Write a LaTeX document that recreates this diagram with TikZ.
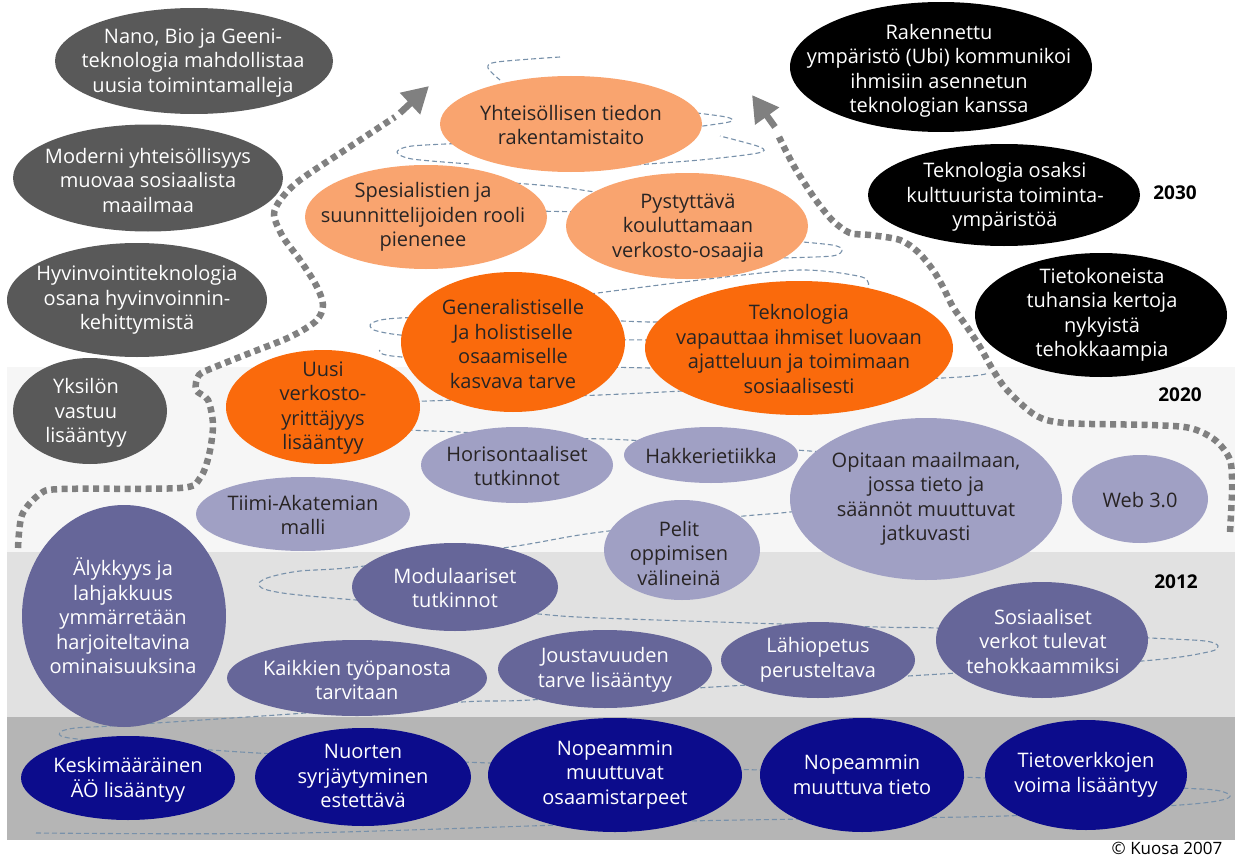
\documentclass[tikz,border=0pt]{standalone}
\usepackage{fontspec}
\setmainfont{Open Sans}
\usetikzlibrary{shapes.geometric,arrows.meta}
\definecolor{dgray}{RGB}{89,89,89}
\definecolor{lorange}{RGB}{249,164,111}
\definecolor{borange}{RGB}{250,106,12}
\definecolor{lav}{RGB}{160,160,196}
\definecolor{slate}{RGB}{102,102,153}
\definecolor{navy2}{RGB}{12,12,140}
\definecolor{bandA}{RGB}{246,246,246}
\definecolor{bandB}{RGB}{225,225,225}
\definecolor{bandC}{RGB}{181,181,181}
\definecolor{spiralc}{RGB}{120,145,170}
\definecolor{dotc}{RGB}{128,128,128}
\definecolor{darktxt}{RGB}{40,36,36}
\begin{document}
\begin{tikzpicture}[x=1pt,y=-1pt,
  ell/.style={ellipse,inner sep=0pt,draw=none},
  txt/.style={align=center,inner sep=0pt,font=\fontsize{20}{24.5}\selectfont},
  wtxt/.style={txt,text=white},
  dtxt/.style={txt,text=darktxt},
  spiral/.style={draw=spiralc,line width=1.1pt,dash pattern=on 5pt off 3pt},
  dotline/.style={draw=dotc,line width=6.5pt,dash pattern=on 6pt off 4.5pt},
  headtip/.style={draw=dotc,line width=6.5pt,-{Triangle[length=26pt,width=28pt]}},
  year/.style={font=\fontsize{19}{22}\selectfont\bfseries,text=black}
]
\useasboundingbox (0,0) rectangle (1235,859);
\fill[white] (0,0) rectangle (1235,859);
% bands
\fill[bandA] (7,367) rectangle (1235,552);
\fill[bandB] (7,552) rectangle (1235,717);
\fill[bandC] (7,717) rectangle (1235,840);

% spiral (dashed)
\draw[spiral] plot[smooth,tension=0.5] coordinates {
 (36,833) (300,833) (689,821) (1005,816) (1180,805) (1222,800) (1230,795) (1215,790) (1180,788)
 (985,778) (760,770) (490,763) (257,753) (100,741) (64,737) (60,732) (75,728) (110,726)
 (277,715) (462,702) (530,700) (697,688) (908,676) (1142,661) (1208,652) (1218,646) (1205,641) (1150,638)
 (936,628) (879,627) (600,618) (526,613) (356,600) (290,594) (264,589) (259,583) (270,577) (300,571)
 (356,567) (510,547) (593,533) (734,517) (790,512) (880,500) (925,478) (900,460) (810,451)
 (628,440) (565,438) (458,432) (411,430) (380,425) (352,412) (380,403) (427,401) (600,395)
 (800,385) (960,377) (988,373)};
\draw[spiral] plot[smooth,tension=0.5] coordinates {(650,340) (450,338) (400,335) (374,330) (372,323) (400,318) (520,316) (650,322) (720,318)};
\draw[spiral] plot[smooth,tension=0.5] coordinates {(650,368) (500,364) (392,356) (380,350)};
\draw[spiral] plot[smooth,tension=0.5] coordinates {(590,294) (700,280) (800,270) (862,277) (868,288)};
\draw[spiral] plot[smooth,tension=0.5] coordinates {(780,240) (832,245) (842,250) (832,256) (780,258)};
\draw[spiral] (530,211) -- (590,212);
\draw[spiral] plot[smooth,tension=0.5] coordinates {(500,182) (560,187) (620,196)};
\draw[spiral] plot[smooth,tension=0.5] coordinates {(470,143) (412,146) (397,152) (412,159) (470,164)};
\draw[spiral] plot[smooth,tension=0.5] coordinates {(620,166) (700,160) (758,153) (760,147) (720,136)};
\draw[spiral] plot[smooth,tension=0.5] coordinates {(680,111) (726,117) (729,122) (680,129)};
\draw[spiral] plot[smooth,tension=0.5] coordinates {(560,57) (497,62) (488,68) (500,80)};

% dotted arrows
\draw[dotline] plot[smooth,tension=0.5] coordinates {
 (18,548) (22,515) (40,494) (62,489) (180,488) (200,478) (209,455) (213,425) (208,400) (196,390)
 (199,375) (215,367) (250,353) (290,337) (316,321) (323,305) (316,285) (300,260) (283,237)
 (274,215) (281,199) (300,180) (345,150) (395,117)};
\coordinate (la1) at (400,113);
\coordinate (la2) at (429,86);
\draw[headtip] (la1) -- (la2);
\draw[dotline] plot[smooth,tension=0.5] coordinates {
 (1230,532) (1232,490) (1230,460) (1215,440) (1190,428) (1150,425) (1065,423) (1035,415)
 (1007,390) (993,370) (980,347) (967,327) (953,307) (943,287) (933,270) (918,252) (900,240)
 (870,235) (850,233) (833,221) (818,203) (807,187) (795,168) (787,153) (779,137)};
\coordinate (ra1) at (775,127);
\coordinate (ra2) at (752,95);
\draw[headtip] (ra1) -- (ra2);

% ellipses: dark gray
\node[ell,fill=dgray,minimum width=278pt,minimum height=106pt] (e1) at (194,61) {};
\node[wtxt] at (193,63) {Nano, Bio ja Geeni-\\teknologia mahdollistaa\\uusia toimintamalleja};
\node[ell,fill=dgray,minimum width=270pt,minimum height=107pt] (e2) at (148,178) {};
\node[wtxt] at (148,180) {Moderni yhteisöllisyys\\muovaa sosiaalista\\maailmaa};
\node[ell,fill=dgray,minimum width=260pt,minimum height=114pt] (e3) at (137,300) {};
\node[wtxt] at (137,300) {Hyvinvointiteknologia\\osana hyvinvoinnin-\\kehittymistä};
\node[ell,fill=dgray,minimum width=154pt,minimum height=106pt] (e4) at (90,411) {};
\node[wtxt] at (86,413) {Yksilön\\vastuu\\lisääntyy};
% black
\node[ell,fill=black,minimum width=302pt,minimum height=130pt] (e5) at (941,67) {};
\node[wtxt] at (939,71) {Rakennettu\\ympäristö (Ubi) kommunikoi\\ihmisiin asennetun\\teknologian kanssa};
\node[ell,fill=black,minimum width=272pt,minimum height=102pt] (e6) at (1004,195) {};
\node[wtxt] at (1005,197) {Teknologia osaksi\\kulttuurista toiminta-\\ympäristöä};
\node[ell,fill=black,minimum width=252pt,minimum height=124pt] (e7) at (1101,315) {};
\node[wtxt] at (1102,315) {Tietokoneista\\tuhansia kertoja\\nykyistä\\tehokkaampia};
% light orange
\node[ell,fill=lorange,minimum width=262pt,minimum height=96pt] (e8) at (571,124) {};
\node[dtxt] at (571,125) {Yhteisöllisen tiedon\\rakentamistaito};
\node[ell,fill=lorange,minimum width=242pt,minimum height=104pt] (e9) at (426,217) {};
\node[dtxt] at (423,217) {Spesialistien ja\\suunnittelijoiden rooli\\pienenee};
\node[ell,fill=lorange,minimum width=242pt,minimum height=106pt] (e10) at (687,226) {};
\node[dtxt] at (688,228) {Pystyttävä\\kouluttamaan\\verkosto-osaajia};
% bright orange
\node[ell,fill=borange,minimum width=224pt,minimum height=140pt] (e11) at (513,342) {};
\node[dtxt] at (513,344) {Generalistiselle\\Ja holistiselle\\osaamiselle\\kasvava tarve};
\node[ell,fill=borange,minimum width=308pt,minimum height=134pt] (e12) at (799,348) {};
\node[dtxt] at (799,349) {Teknologia\\vapauttaa ihmiset luovaan\\ajatteluun ja toimimaan\\sosiaalisesti};
\node[ell,fill=borange,minimum width=194pt,minimum height=114pt] (e13) at (323,407) {};
\node[dtxt] at (323,408) {Uusi\\verkosto-\\yrittäjyys\\lisääntyy};
% lavender
\node[ell,fill=lav,minimum width=192pt,minimum height=76pt] (e14) at (517,465) {};
\node[dtxt] at (517,466) {Horisontaaliset\\tutkinnot};
\node[ell,fill=lav,minimum width=174pt,minimum height=56pt] (e15) at (711,455) {};
\node[dtxt] at (711,456) {Hakkerietiikka};
\node[ell,fill=lav,minimum width=214pt,minimum height=74pt] (e16) at (303,514) {};
\node[dtxt] at (303,515) {Tiimi-Akatemian\\malli};
\node[ell,fill=lav,minimum width=272pt,minimum height=162pt] (e17) at (926,499) {};
\node[dtxt] at (926,499) {Opitaan maailmaan,\\jossa tieto ja\\säännöt muuttuvat\\jatkuvasti};
\node[ell,fill=lav,minimum width=136pt,minimum height=88pt] (e18) at (1140,499) {};
\node[dtxt] at (1140,500) {Web 3.0};
\node[ell,fill=lav,minimum width=156pt,minimum height=100pt] (e19) at (682,550) {};
\node[dtxt] at (679,553) {Pelit\\oppimisen\\välineinä};
% slate
\node[ell,fill=slate,minimum width=204pt,minimum height=222pt] (e20) at (124,616) {};
\node[wtxt] at (123,616) {Älykkyys ja\\lahjakkuus\\ymmärretään\\harjoiteltavina\\ominaisuuksina};
\node[ell,fill=slate,minimum width=206pt,minimum height=88pt] (e21) at (455,587) {};
\node[wtxt] at (455,588) {Modulaariset\\tutkinnot};
\node[ell,fill=slate,minimum width=260pt,minimum height=76pt] (e22) at (357,678) {};
\node[wtxt] at (357,680) {Kaikkien työpanosta\\tarvitaan};
\node[ell,fill=slate,minimum width=214pt,minimum height=78pt] (e23) at (605,669) {};
\node[wtxt] at (605,670) {Joustavuuden\\tarve lisääntyy};
\node[ell,fill=slate,minimum width=194pt,minimum height=76pt] (e24) at (818,660) {};
\node[wtxt] at (818,660) {Lähiopetus\\perusteltava};
\node[ell,fill=slate,minimum width=212pt,minimum height=116pt] (e25) at (1042,640) {};
\node[wtxt] at (1043,641) {Sosiaaliset\\verkot tulevat\\tehokkaammiksi};
% navy
\node[ell,fill=navy2,minimum width=214pt,minimum height=84pt] (e26) at (128,778) {};
\node[wtxt] at (128,780) {Keskimääräinen\\ÄÖ lisääntyy};
\node[ell,fill=navy2,minimum width=216pt,minimum height=98pt] (e27) at (363,777) {};
\node[wtxt] at (363,776) {Nuorten\\syrjäytyminen\\estettävä};
\node[ell,fill=navy2,minimum width=254pt,minimum height=114pt] (e28) at (615,775) {};
\node[wtxt] at (615,775) {Nopeammin\\muuttuvat\\osaamistarpeet};
\node[ell,fill=navy2,minimum width=204pt,minimum height=114pt] (e29) at (862,775) {};
\node[wtxt] at (862,775) {Nopeammin\\muuttuva tieto};
\node[ell,fill=navy2,minimum width=202pt,minimum height=110pt] (e30) at (1086,775) {};
\node[wtxt] at (1086,775) {Tietoverkkojen\\voima lisääntyy};

% years
\node[year] (y2030) at (1175,193) {2030};
\node[year] (y2020) at (1180,395) {2020};
\node[year] (y2012) at (1176,582) {2012};
\node[font=\fontsize{17}{20}\selectfont,text=black] (copy) at (1167,848) {© Kuosa 2007};
\end{tikzpicture}
\end{document}
